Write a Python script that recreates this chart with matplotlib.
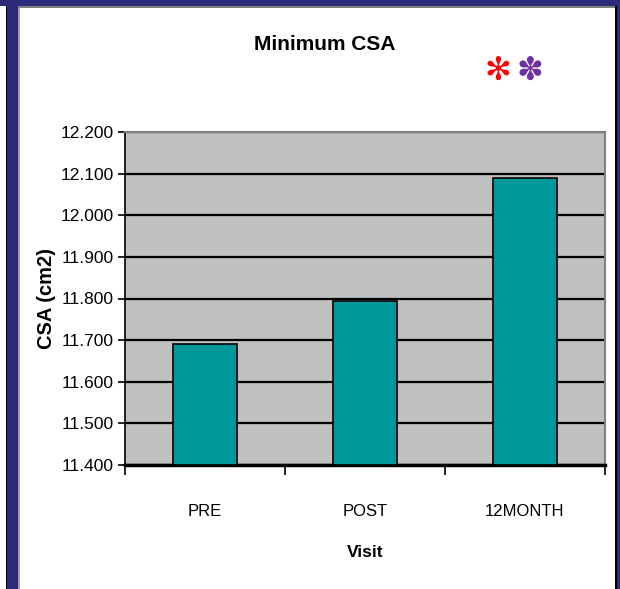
import matplotlib
matplotlib.use("Agg")
import matplotlib.pyplot as plt
from matplotlib.patches import Rectangle

categories = ["PRE", "POST", "12MONTH"]
values = [11.69, 11.795, 12.09]
yticks = [11.4, 11.5, 11.6, 11.7, 11.8, 11.9, 12.0, 12.1, 12.2]
ytick_labels = ["11.400", "11.500", "11.600", "11.700", "11.800", "11.900", "12.000", "12.100", "12.200"]

fam = ["Liberation Sans", "DejaVu Sans"]

W, H = 620, 589
fig = plt.figure(figsize=(W / 100, H / 100), dpi=100)
fig.patch.set_facecolor("white")

def px(x0, y0, w, h, color):
    fig.patches.append(Rectangle((x0 / W, 1 - (y0 + h) / H), w / W, h / H,
                                 transform=fig.transFigure, facecolor=color,
                                 edgecolor="none", zorder=0))

blue = "#2A2A78"
px(6, 0, 1.5, H, "black")
px(7, 0, 11, H, blue)
px(18, 7, 2, H, "#A0A0A0")
px(0, 0, W, 6, blue)
px(18, 6, 598, 1.5, "#808080")
px(615, 6, 2, H, "black")
px(617, 0, 3, H, blue)

ax = fig.add_axes([125 / W, 1 - 465 / H, 480 / W, 333 / H])
ax.set_facecolor("#C0C0C0")
x = list(range(len(categories)))
ax.bar(x, [v - 11.4 for v in values], bottom=11.4, width=0.4, color="#009999",
       edgecolor="black", linewidth=1.2, zorder=3)
ax.set_xlim(-0.5, 2.5)
ax.set_ylim(11.4, 12.2)
ax.set_yticks(yticks)
ax.set_yticklabels(ytick_labels, family=fam, fontsize=12.5)
ax.yaxis.grid(True, color="black", linewidth=1.6, zorder=1)
ax.set_axisbelow(True)
ax.set_xticks([-0.5, 0.5, 1.5, 2.5])
ax.set_xticklabels([])
ax.set_xticks(x, minor=True)
ax.set_xticklabels(categories, minor=True, family=fam, fontsize=12)
ax.tick_params(axis="x", which="minor", length=0, pad=28)
ax.tick_params(axis="x", which="major", length=7, width=1.2, direction="out")
ax.tick_params(axis="y", length=5, width=1.2, direction="out", pad=3)
ax.spines["left"].set_color("black")
ax.spines["left"].set_linewidth(1.2)
ax.spines["bottom"].set_color("black")
ax.spines["bottom"].set_linewidth(2.5)
ax.spines["top"].set_color("#808080")
ax.spines["top"].set_linewidth(1.5)
ax.spines["right"].set_color("#808080")
ax.spines["right"].set_linewidth(1.5)

ax.set_xlabel("Visit", family=fam, fontsize=12.5, fontweight="bold", labelpad=19)
ax.set_ylabel("CSA (cm2)", family=fam, fontsize=14.5, fontweight="bold", labelpad=3)

fig.text(325 / W, 1 - 45 / H, "Minimum CSA", family=fam, fontsize=15,
         fontweight="bold", ha="center", va="center")
fig.text(498 / W, 1 - 71 / H, "\u273B", color="#FF0000", fontsize=23,
         family=["DejaVu Sans"], ha="center", va="center")
fig.text(530 / W, 1 - 71 / H, "\u273D", color="#7030A0", fontsize=23,
         family=["DejaVu Sans"], ha="center", va="center")

fig.savefig("out.png", dpi=100)
